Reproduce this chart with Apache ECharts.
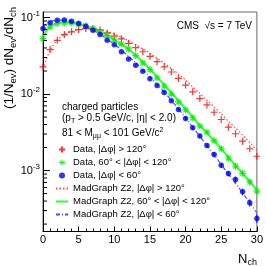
<!DOCTYPE html>
<html><head><meta charset="utf-8">
<script src="https://cdn.jsdelivr.net/npm/echarts@6/dist/echarts.min.js"></script>
<style>html,body{margin:0;padding:0;background:#fff}#c{width:266px;height:266px}</style>
</head><body><div id="c"></div>
<script>
// N_ch bins
const nch = [0,1,2,3,4,5,6,7,8,9,10,11,12,13,14,15,16,17,18,19,20,21,22,23,24,25,26,27,28,29,30];
// Data, |dphi| > 120
const dataFar = [0.0226,0.0381,0.0504,0.0598,0.0649,0.0695,0.0716,0.0711,0.0689,0.0629,0.0572,0.0525,0.0458,0.0403,0.0357,0.0311,0.0265,0.0227,0.0194,0.0160,0.0131,0.0107,0.00873,0.0072,0.00578,0.00465,0.00369,0.00303,0.00242,0.00193,0.00154];
// Data, 60 < |dphi| < 120
const dataMid = [0.053,0.0753,0.083,0.085,0.085,0.082,0.078,0.072,0.065,0.058,0.051,0.045,0.0389,0.0318,0.0255,0.0209,0.0163,0.0127,0.0100,0.0079,0.0062,0.0049,0.0038,0.00317,0.00247,0.00193,0.00146,0.00114,0.00092,0.00071,0.00054];
// Data, |dphi| < 60
const dataNear = [0.0716,0.0851,0.0919,0.093,0.0892,0.0832,0.0767,0.068,0.0598,0.0504,0.0442,0.0356,0.0288,0.0238,0.0199,0.0158,0.0129,0.0105,0.0082,0.0063,0.0048,0.00362,0.00283,0.00213,0.00162,0.00117,0.000916,0.000765,0.000528,0.00038,0.000237];
// MadGraph Z2 curves
const mcFar = [0.0215,0.0375,0.0505,0.0597,0.0655,0.0693,0.0712,0.0712,0.0695,0.0655,0.0605,0.0552,0.0497,0.0442,0.0390,0.0341,0.0295,0.0253,0.0216,0.0183,0.0152,0.0124,0.0102,0.0083,0.0068,0.0055,0.0044,0.0036,0.0029,0.00233,0.00185];
const mcMid = [0.057,0.0765,0.0845,0.0865,0.0855,0.082,0.077,0.071,0.0645,0.0578,0.051,0.0445,0.0385,0.0322,0.0262,0.0212,0.0168,0.0132,0.0104,0.0082,0.0064,0.0050,0.0039,0.0031,0.00245,0.00193,0.0015,0.00117,0.00092,0.00072,0.00056];
const mcNear = [0.077,0.0875,0.0925,0.0925,0.089,0.0835,0.0765,0.0685,0.0602,0.0522,0.0446,0.0375,0.0311,0.0256,0.0208,0.0168,0.0134,0.0106,0.0083,0.0064,0.0049,0.0037,0.0028,0.00212,0.0016,0.0012,0.0009,0.00068,0.00051,0.00038,0.00028];
// relative statistical errors
const errMid = [0.02,0.02,0.02,0.02,0.02,0.02,0.02,0.02,0.02,0.02,0.02,0.02,0.02,0.025,0.025,0.03,0.03,0.03,0.035,0.035,0.04,0.04,0.045,0.05,0.05,0.055,0.06,0.065,0.07,0.08,0.09];
const errNear = [0.02,0.02,0.02,0.02,0.02,0.02,0.02,0.02,0.02,0.02,0.02,0.02,0.025,0.025,0.03,0.03,0.035,0.04,0.045,0.05,0.05,0.055,0.06,0.065,0.07,0.075,0.08,0.09,0.10,0.11,0.13];
// axis ticks
const xMin = 0, xMax = 30, xInterval = 5;
const yMin = 1.6e-4, yMax = 0.118;
const yMinorTicks = [2e-4,3e-4,4e-4,5e-4,6e-4,7e-4,8e-4,9e-4,2e-3,3e-3,4e-3,5e-3,6e-3,7e-3,8e-3,9e-3,2e-2,3e-2,4e-2,5e-2,6e-2,7e-2,8e-2,9e-2];

const names = ['Data, |\u0394\u03c6| > 120\u00b0','Data, 60\u00b0 < |\u0394\u03c6| < 120\u00b0','Data, |\u0394\u03c6| < 60\u00b0',
  'MadGraph Z2, |\u0394\u03c6| > 120\u00b0','MadGraph Z2, 60\u00b0 < |\u0394\u03c6| < 120\u00b0','MadGraph Z2, |\u0394\u03c6| < 60\u00b0'];
const FONT = 'Liberation Sans';
const pairs = arr => nch.map((x,i)=>[x,arr[i]]);
const plusSym = 'path://M0,5L10,5M5,0L5,10';
const starSym = 'path://M0,5L10,5M5,0L5,10M1.5,1.5L8.5,8.5M8.5,1.5L1.5,8.5';
const hidden = {color:'rgba(0,0,0,0)', borderWidth:0, borderColor:'rgba(0,0,0,0)'};

function errSeries(vals, rel, color){
  return {type:'custom', silent:true, z:3,
    data: nch.map((x,i)=>[x, vals[i], rel[i]]),
    renderItem:(params, api)=>{
      const x = api.value(0), y = api.value(1), e = api.value(2);
      const lo = api.coord([x, y*(1-e)]), hi = api.coord([x, y*(1+e)]);
      return {type:'line', shape:{x1:lo[0],y1:lo[1],x2:hi[0],y2:hi[1]}, style:{stroke:color, lineWidth:1}};
    }};
}

const chart = echarts.init(document.getElementById('c'), null, {renderer:'canvas'});
chart.setOption({
  animation:false,
  textStyle:{fontFamily:FONT},
  grid:{left:43, right:6, top:12, bottom:34.5, show:true, borderColor:'#666', borderWidth:1, containLabel:false},
  xAxis:{type:'value', min:xMin, max:xMax, interval:xInterval,
    axisLine:{lineStyle:{color:'#000', width:1}},
    axisTick:{inside:true, length:5, lineStyle:{color:'#000'}},
    minorTick:{show:true, splitNumber:5, length:3, lineStyle:{color:'#000'}},
    splitLine:{show:false},
    axisLabel:{color:'#000', fontSize:11, fontFamily:FONT, margin:3}},
  yAxis:{type:'log', logBase:10, min:yMin, max:yMax,
    axisLine:{show:true, lineStyle:{color:'#000', width:1}},
    axisTick:{inside:true, length:7, lineStyle:{color:'#000'}},
    splitLine:{show:false},
    axisLabel:{margin:3, showMinLabel:false, showMaxLabel:false,
      formatter:v=>{const l=Math.log10(v); const r=Math.round(l); if(Math.abs(l-r)>1e-6) return ''; return '{b|10}{s|'+r+'}';},
      rich:{b:{fontSize:11, fontFamily:FONT, color:'#000', lineHeight:16}, s:{fontSize:8, fontFamily:FONT, color:'#000', verticalAlign:'top'}}}},
  legend:{orient:'vertical', left:55, top:144.5, padding:0, itemWidth:12, itemHeight:6, itemGap:3,
    textStyle:{fontSize:9.5, fontFamily:FONT, color:'#000', lineHeight:9.5},
    data:[{name:names[0]},{name:names[1], itemStyle:{borderWidth:1}},{name:names[2]},
      {name:names[3], itemStyle:hidden},{name:names[4], itemStyle:hidden},{name:names[5], itemStyle:hidden}]},
  graphic:[
    {type:'text', x:252, y:26, style:{text:'CMS  \u221as = 7 TeV', font:'10px "'+FONT+'"', fill:'#000', align:'right', verticalAlign:'middle'}},
    {type:'text', x:62, y:107, style:{text:'charged particles', font:'10px "'+FONT+'"', fill:'#000', align:'left', verticalAlign:'middle'}},
    {type:'text', x:62, y:118.5, style:{text:'{n|(p}{s|T}{n| > 0.5 GeV/c, |\u03b7| < 2.0)}', align:'left', verticalAlign:'middle',
      rich:{n:{fontSize:10, fontFamily:FONT, fill:'#000', lineHeight:13}, s:{fontSize:7, fontFamily:FONT, fill:'#000', verticalAlign:'bottom'}}}},
    {type:'text', x:62, y:133, style:{text:'{n|81 < M}{s|\u03bc\u03bc}{n| < 101 GeV/c}{p|2}', align:'left', verticalAlign:'middle',
      rich:{n:{fontSize:10, fontFamily:FONT, fill:'#000', lineHeight:13}, s:{fontSize:7, fontFamily:FONT, fill:'#000', verticalAlign:'bottom'}, p:{fontSize:7, fontFamily:FONT, fill:'#000', verticalAlign:'top'}}}},
    {type:'text', x:257, y:259, style:{text:'{n|N}{s|ch}', align:'right', verticalAlign:'middle',
      rich:{n:{fontSize:13, fontFamily:FONT, fill:'#000', lineHeight:17}, s:{fontSize:9, fontFamily:FONT, fill:'#000', verticalAlign:'bottom'}}}},
    {type:'text', x:9, y:58, rotation:Math.PI/2, style:{text:'{n|(1/N}{s|ev}{n|) dN}{s|ev}{n|/dN}{s|ch}', align:'center', verticalAlign:'middle',
      rich:{n:{fontSize:13.5, fontFamily:FONT, fill:'#000', lineHeight:18}, s:{fontSize:9.5, fontFamily:FONT, fill:'#000', verticalAlign:'bottom'}}}}
  ],
  series:[
    {name:names[3], type:'line', data:pairs(mcFar), smooth:0.3, symbol:'none', z:2,
      lineStyle:{color:'#ff4d4d', width:1.2, type:[1.5,2]}, itemStyle:{color:'#ff4d4d'}},
    {name:names[4], type:'line', data:pairs(mcMid), smooth:0.3, symbol:'none', z:2,
      lineStyle:{color:'#33ff33', width:2, type:'solid'}, itemStyle:{color:'#33ff33'}},
    {name:names[5], type:'line', data:pairs(mcNear), smooth:0.3, symbol:'none', z:2,
      lineStyle:{color:'#4d4dff', width:1.2, type:[4,2,1,2]}, itemStyle:{color:'#4d4dff'}},
    errSeries(dataMid, errMid, '#00ee00'),
    errSeries(dataNear, errNear, '#0000ff'),
    {name:names[0], type:'scatter', data:pairs(dataFar), symbol:plusSym, symbolSize:7, z:4,
      itemStyle:{color:'#ff0000', borderColor:'#ff0000', borderWidth:1.2}},
    {name:names[1], type:'scatter', data:pairs(dataMid), symbol:starSym, symbolSize:7, z:4,
      itemStyle:{color:'#00ee00', borderColor:'#00ee00', borderWidth:1.2}},
    {name:names[2], type:'scatter', data:pairs(dataNear), symbol:'circle', symbolSize:5.5, z:4,
      itemStyle:{color:'#0000ff'}},
    {type:'custom', silent:true, z:5, data:yMinorTicks.map(v=>[xMin, v]),
      renderItem:(params, api)=>{const p = api.coord([api.value(0), api.value(1)]);
        return {type:'line', shape:{x1:p[0], y1:p[1], x2:p[0]+4, y2:p[1]}, style:{stroke:'#000', lineWidth:1}};}}
  ]
});
</script></body></html>
